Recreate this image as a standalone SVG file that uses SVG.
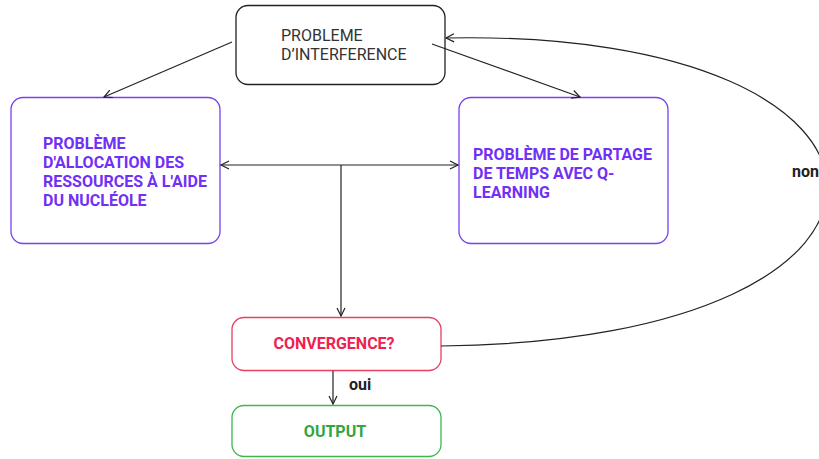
<svg xmlns="http://www.w3.org/2000/svg" width="819" height="459" viewBox="0 0 819 459">
<style>
.box{fill:#fff;stroke-width:1.3}
.t{font-family:Roboto,"Liberation Sans",sans-serif;font-size:16px}
.b{font-weight:bold}
.c{stroke:#222;stroke-width:1.2;fill:none}
</style>
<defs>
<marker id="a" markerWidth="12" markerHeight="12" refX="10" refY="6" orient="auto-start-reverse" markerUnits="userSpaceOnUse">
<path d="M2,2 L10,6 L2,10" fill="none" stroke="#222" stroke-width="1.2"/>
</marker>
</defs>
<rect width="819" height="459" fill="#fff"/>
<g id="n-interference">
<rect class="box" x="236" y="5.5" width="209" height="79" rx="12" stroke="#222"/>
<text class="t" x="281" y="41" fill="#333">PROBLEME</text>
<text class="t" x="281" y="60" fill="#333">D’INTERFERENCE</text>
</g>
<g id="n-allocation">
<rect class="box" x="11" y="97.5" width="209" height="146" rx="12" stroke="#7b3ff2"/>
<g class="t b" fill="#7030f5">
<text x="43" y="149">PROBLÈME</text>
<text x="43" y="168">D'ALLOCATION DES</text>
<text x="43" y="187">RESSOURCES À L'AIDE</text>
<text x="43" y="205.5">DU NUCLÉOLE</text>
</g>
</g>
<g id="n-partage">
<rect class="box" x="459" y="97.5" width="209" height="146" rx="12" stroke="#7b3ff2"/>
<g class="t b" fill="#7030f5">
<text x="473" y="160">PROBLÈME DE PARTAGE</text>
<text x="473" y="179">DE TEMPS AVEC Q-</text>
<text x="473" y="198">LEARNING</text>
</g>
</g>
<g id="n-convergence">
<rect class="box" x="232" y="317.5" width="209" height="53" rx="12" stroke="#e8405e"/>
<text class="t b" x="334" y="349" fill="#ee2250" text-anchor="middle">CONVERGENCE?</text>
</g>
<g id="n-output">
<rect class="box" x="232" y="405.5" width="209" height="51" rx="12" stroke="#43b54f"/>
<text class="t b" x="335" y="437" fill="#33a540" text-anchor="middle">OUTPUT</text>
</g>
<g id="connectors">
<path class="c" d="M232,42 L104,97" marker-end="url(#a)"/>
<path class="c" d="M432,44 L580,97" marker-end="url(#a)"/>
<path class="c" d="M221,165 L458,165" marker-start="url(#a)" marker-end="url(#a)"/>
<path class="c" d="M341,165 L341,316" marker-end="url(#a)"/>
<path class="c" d="M333,371 L333,404" marker-end="url(#a)"/>
<path class="c" d="M441,346 C965,340 945,28 446,38" marker-end="url(#a)"/>
<text class="t b" x="349" y="390" fill="#222" font-size="14">oui</text>
<text class="t b" x="792" y="177" fill="#222" font-size="14">non</text>
</g>
</svg>
